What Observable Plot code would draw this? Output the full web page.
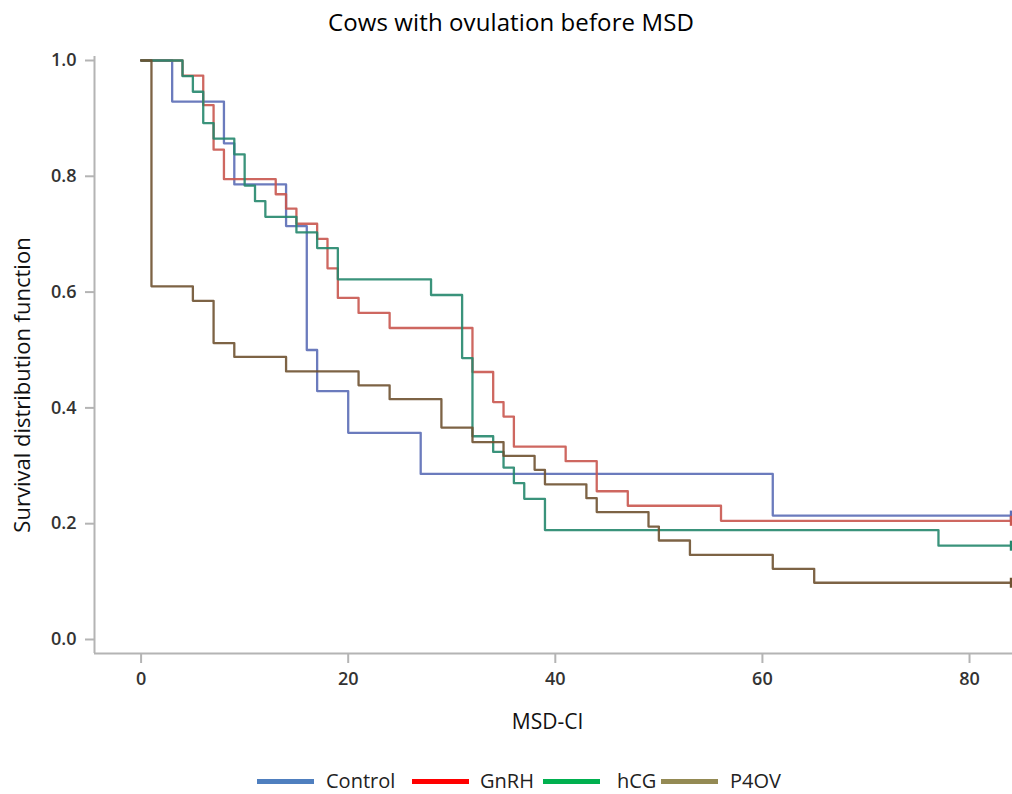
<!DOCTYPE html>
<html><head><meta charset="utf-8">
<script src="https://cdn.jsdelivr.net/npm/d3@7"></script>
<script src="https://cdn.jsdelivr.net/npm/@observablehq/plot@0.6"></script>
<style>
body{margin:0;background:#fff;font-family:"Open Sans",sans-serif;width:1012px;overflow:hidden;}
#title{height:40px;line-height:44px;text-align:center;font-size:24px;color:#000;padding-left:10px;letter-spacing:0.1px;}
#chart svg{display:block;}
#legend{position:relative;height:54px;font-size:20px;color:#222;}
#legend .sw{position:absolute;top:39px;width:57px;height:5px;}
#legend .lab{position:absolute;top:26px;line-height:30px;white-space:nowrap;}
</style></head><body>
<div id="title">Cows with ovulation before MSD</div>
<div id="chart"></div>
<div id="legend"></div>
<script>
const groups = ["Control", "GnRH", "hCG", "P4OV"];

const controlTime = [0, 3, 8, 9, 14, 16, 17, 20, 27, 61, 84];
const controlSurv = [1, 0.929, 0.857, 0.786, 0.714, 0.500, 0.429, 0.357, 0.286, 0.214, 0.214];

const gnrhTime = [0, 4, 6, 7, 8, 13, 14, 15, 17, 18, 19, 21, 24, 32, 34, 35, 36, 41, 44, 47, 56, 84];
const gnrhSurv = [1, 0.974, 0.923, 0.846, 0.795, 0.769, 0.744, 0.718, 0.692, 0.641, 0.590, 0.564, 0.538, 0.462, 0.410, 0.385, 0.333, 0.308, 0.256, 0.231, 0.205, 0.205];

const hcgTime = [0, 4, 5, 6, 7, 9, 10, 11, 12, 15, 17, 19, 28, 31, 32, 34, 35, 36, 37, 39, 77, 84];
const hcgSurv = [1, 0.973, 0.946, 0.892, 0.865, 0.838, 0.784, 0.757, 0.730, 0.703, 0.676, 0.622, 0.595, 0.486, 0.351, 0.324, 0.297, 0.270, 0.243, 0.189, 0.162, 0.162];

const p4ovTime = [0, 1, 5, 7, 9, 14, 21, 24, 29, 32, 35, 38, 39, 43, 44, 49, 50, 53, 61, 65, 84];
const p4ovSurv = [1, 0.610, 0.585, 0.512, 0.488, 0.463, 0.439, 0.415, 0.366, 0.341, 0.317, 0.293, 0.268, 0.244, 0.220, 0.195, 0.171, 0.146, 0.122, 0.098, 0.098];

const censorTime = [84, 84, 84, 84];
const censorSurv = [0.214, 0.205, 0.162, 0.098];

const xTicks = [0, 20, 40, 60, 80];
const yTicks = [0, 0.2, 0.4, 0.6, 0.8, 1.0];

const lineColors = ["#5b6db6", "#c9574f", "#25876d", "#6f5231"];
const legendColors = ["#4f7fbf", "#ff0000", "#00b04f", "#948a54"];
const legendSwatchLeft = [257, 412, 543, 661];
const legendTextLeft = [326, 480, 617, 730];

const xDomain = [-4.5, 84.15];
const yDomain = [-0.0242, 1.0069];

const series = [[controlTime, controlSurv], [gnrhTime, gnrhSurv], [hcgTime, hcgSurv], [p4ovTime, p4ovSurv]];
const rows = series.flatMap(([t, s], i) => t.map((ti, j) => ({group: groups[i], t: ti, s: s[j]})));
const censors = groups.map((g, i) => ({group: g, t: censorTime[i], s: censorSurv[i]}));

const vbar = {draw(ctx, size) { const r = Math.sqrt(size / Math.PI); ctx.moveTo(0, -r); ctx.lineTo(0, r); }};

const chart = Plot.plot({
  width: 1012,
  height: 700,
  marginTop: 16,
  marginLeft: 94,
  marginRight: 0,
  marginBottom: 87,
  style: {fontFamily: "'Open Sans', sans-serif", background: "#fff"},
  x: {domain: xDomain},
  y: {domain: yDomain},
  color: {domain: groups, range: lineColors},
  marks: [
    Plot.ruleY([yDomain[0]], {stroke: "#b4b4b4", strokeWidth: 2}),
    Plot.ruleX([xDomain[0]], {stroke: "#b4b4b4", strokeWidth: 2}),
    Plot.axisX({ticks: xTicks, tickSize: 10, tickPadding: 9, stroke: "#b4b4b4", strokeWidth: 2, fill: "#333", fontSize: 18, fontWeight: 600, label: null}),
    Plot.axisY({ticks: yTicks, tickSize: 9, tickPadding: 9, stroke: "#b4b4b4", strokeWidth: 2, fill: "#333", fontSize: 18, fontWeight: 600, tickFormat: d3.format(".1f"), label: null}),
    Plot.text(["MSD-CI"], {frameAnchor: "bottom", dx: -6, dy: 69, lineAnchor: "middle", fontSize: 21, fill: "#111"}),
    Plot.text(["Survival distribution function"], {frameAnchor: "left", dx: -72, dy: 30, rotate: -90, lineAnchor: "middle", textAnchor: "middle", fontSize: 22, fill: "#111"}),
    Plot.line(rows, {x: "t", y: "s", z: "group", stroke: "group", curve: "step-after", strokeWidth: 2.3, strokeOpacity: 0.9}),
    Plot.dot(censors, {x: "t", y: "s", stroke: "group", symbol: vbar, r: 5, strokeWidth: 2.3})
  ]
});
document.getElementById("chart").appendChild(chart);

const leg = document.getElementById("legend");
groups.forEach((g, i) => {
  const sw = document.createElement("span"); sw.className = "sw"; sw.style.background = legendColors[i]; sw.style.left = legendSwatchLeft[i] + "px";
  const lab = document.createElement("span"); lab.className = "lab"; lab.textContent = g; lab.style.left = legendTextLeft[i] + "px";
  leg.appendChild(sw); leg.appendChild(lab);
});
</script>
</body></html>
